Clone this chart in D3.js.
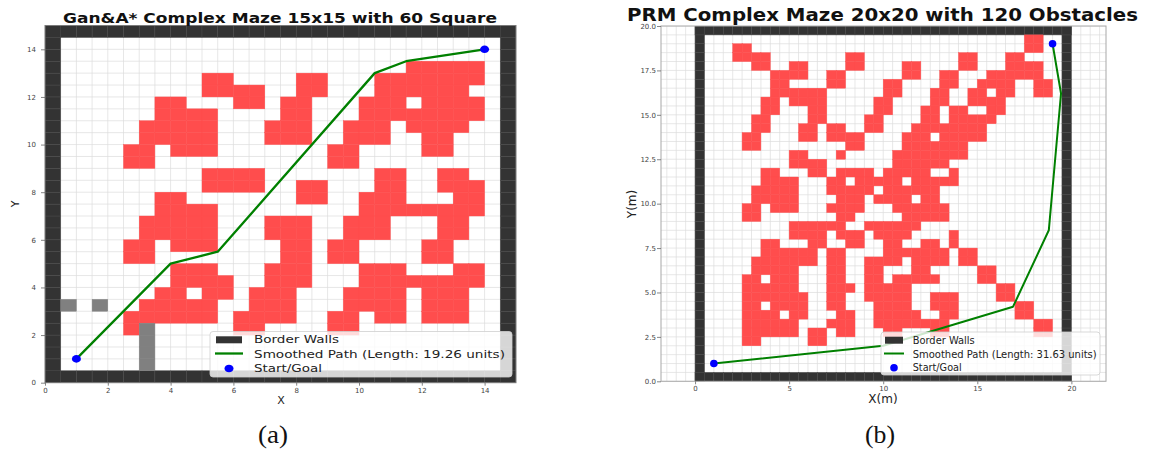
<!DOCTYPE html>
<html>
<head>
<meta charset="utf-8">
<script src="https://cdn.jsdelivr.net/npm/d3@7"></script>
<style>
  body { margin: 0; background: #fff; }
  svg { display: block; font-family: "DejaVu Sans", sans-serif; }
</style>
</head>
<body>
<div id="chart-container"></div>
<script>
/**************************************************
 * Data
 **************************************************/

// Panel (a): 15x15 maze, rows of 0.5-unit cells from top (y 14.5) down, x from 0.5
// '#' obstacle, 'g' grey block, '.' free
const mazeARows = [
  "............................",
  "............................",
  "......................#####.",
  ".........##....##...#######.",
  ".........####..##...######..",
  "......##...##.##...###.####.",
  "......####....##...########.",
  ".....#####...###..###.####..",
  ".....#####...###..###..##...",
  "....##.###.......##....##...",
  "....##...........##.........",
  ".........####.......##..##..",
  ".........####..##...##..###.",
  "......##.......##..###...##.",
  "......####.........########.",
  ".....#####...###..###...##..",
  ".....#####...###..###...##..",
  "....##.###....##.##....##...",
  "....##........##.##....##...",
  ".......###...###...###...##.",
  ".......####..###...########.",
  "......##.##.###...####.###..",
  "g.g..#####..###...####.###..",
  "....######.####..##.##.###..",
  "....#g.....##....##.........",
  ".....g......................",
  ".....g......................",
  ".....g......................"
];
const mazeAPath = [[1, 1], [4, 5], [5.5, 5.5], [10.5, 13], [11.5, 13.5], [14, 14]];
const mazeAEnds = [[1, 1], [14, 14]];
const mazeATicks = [0, 2, 4, 6, 8, 10, 12, 14];
const mazeALegend = ["Border Walls", "Smoothed Path (Length: 19.26 units)", "Start/Goal"];

// Panel (b): 20x20 maze, rows of 0.5-unit cells from top (y 19.5) down, x from 0.5
const mazeBRows = [
  "..................................##..",
  "...##.............................##..",
  "...####........##..........##...##....",
  ".....##..##....##....##....##...####..",
  ".......####..##......##..##...######..",
  ".......##....##....##....##..####..##.",
  ".......######......##...##..##.##..##.",
  "......##.####.....##....##..####......",
  "......##...##.....##...##.##..##......",
  ".....##....##....##....##.#####.......",
  ".....##...##.##..##...########........",
  "....##....##.####....###.#####........",
  "....##.........##....#######..........",
  ".........##...#.....########..........",
  ".........####.......######............",
  "......##...##.####.#####..#...........",
  "......####...##.#####.#####...........",
  ".....#####...#####.######.............",
  ".....#####....###.####.##.............",
  "....##.###...####...######............",
  "....##........##.....#####............",
  ".........######..######...............",
  ".........####.###.####....#...........",
  "......##...##..##..##..##.#...........",
  "......######.##....#######.##.........",
  ".....#######.##..####.####.##.........",
  ".....#####...##..##...##.....##.......",
  "....##.###...##..##.#####....##.......",
  "....######...###.#####.........##.....",
  "....#######..##..#####..###....##.....",
  "....##.####..##...####..###......##...",
  "....####.##...##..#####..##......##...",
  "....######...###..########.........##.",
  "....######.##.##...##...##.........##.",
  "....##.....##.........................",
  "......................................",
  "......................................",
  "......................................"
];
const mazeBPath = [[1, 1], [10, 2], [16.9, 4.2], [18.8, 8.5], [19.45, 16.2], [19, 19]];
const mazeBEnds = [[1, 1], [19, 19]];
const mazeBTicksX = [0, 5, 10, 15, 20];
const mazeBTicksY = [0, 2.5, 5, 7.5, 10, 12.5, 15, 17.5, 20];
const mazeBLegend = ["Border Walls", "Smoothed Path (Length: 31.63 units)", "Start/Goal"];

const captions = ["(a)", "(b)"];

/**************************************************
 * Helpers
 **************************************************/

const WALL = "#333333";
const OBST = "#ff4d4d";
const GREY = "#808080";
const PATH = "#008000";
const DOT = "#0000ff";

function cellsFromRows(rows, size) {
  const cells = [];
  rows.forEach((row, r) => {
    for (let c = 0; c < row.length; c++) {
      const ch = row[c];
      if (ch === "#" || ch === "g") {
        cells.push({ x: 0.5 + c * 0.5, y: size - 1 - r * 0.5, kind: ch });
      }
    }
  });
  return cells;
}

function wallCells(size) {
  const cells = [];
  for (let t = 0; t < size; t += 0.5) {
    cells.push({ x: t, y: 0 }, { x: t, y: size - 0.5 }, { x: 0, y: t }, { x: size - 0.5, y: t });
  }
  return cells;
}

function fitText(sel, width) {
  sel.attr("textLength", width).attr("lengthAdjust", "spacingAndGlyphs");
}

/**************************************************
 * Panel rendering
 **************************************************/

function drawPanel(svg, p) {
  const x = d3.scaleLinear().domain(p.xDomain).range(p.xRange);
  const y = d3.scaleLinear().domain(p.yDomain).range(p.yRange);
  const g = svg.append("g");

  svg.append("clipPath").attr("id", "clip-" + p.id)
    .append("rect")
    .attr("x", p.xRange[0]).attr("y", p.yRange[1])
    .attr("width", p.xRange[1] - p.xRange[0])
    .attr("height", p.yRange[0] - p.yRange[1]);

  const plot = g.append("g").attr("clip-path", `url(#clip-${p.id})`);

  // minor grid every 0.5
  const gx = d3.range(Math.ceil(p.xDomain[0] * 2) / 2, p.xDomain[1] + 0.01, 0.5);
  const gy = d3.range(Math.ceil(p.yDomain[0] * 2) / 2, p.yDomain[1] + 0.01, 0.5);
  plot.selectAll("line.gx").data(gx).enter().append("line")
    .attr("x1", d => x(d)).attr("x2", d => x(d))
    .attr("y1", p.yRange[0]).attr("y2", p.yRange[1])
    .attr("stroke", "#dcdcdc").attr("stroke-width", 0.7);
  plot.selectAll("line.gy").data(gy).enter().append("line")
    .attr("y1", d => y(d)).attr("y2", d => y(d))
    .attr("x1", p.xRange[0]).attr("x2", p.xRange[1])
    .attr("stroke", "#dcdcdc").attr("stroke-width", 0.7);

  const cw = x(0.5) - x(0);
  const ch = y(0) - y(0.5);

  // border walls
  plot.selectAll("rect.wall").data(wallCells(p.size)).enter().append("rect")
    .attr("x", d => x(d.x)).attr("y", d => y(d.y + 0.5))
    .attr("width", cw).attr("height", ch)
    .attr("fill", WALL).attr("stroke", "#4a4a4a").attr("stroke-width", 0.5);

  // obstacles
  plot.selectAll("rect.cell").data(cellsFromRows(p.rows, p.size)).enter().append("rect")
    .attr("x", d => x(d.x)).attr("y", d => y(d.y + 0.5))
    .attr("width", cw).attr("height", ch)
    .attr("fill", d => d.kind === "#" ? OBST : GREY)
    .attr("stroke", d => d.kind === "#" ? OBST : GREY)
    .attr("stroke-width", 0.4);

  // smoothed path
  plot.append("path").datum(p.path)
    .attr("d", d3.line().x(d => x(d[0])).y(d => y(d[1])))
    .attr("fill", "none").attr("stroke", PATH)
    .attr("stroke-width", p.pathWidth).attr("stroke-linejoin", "round");

  // start / goal
  plot.selectAll("ellipse.end").data(p.ends).enter().append("ellipse")
    .attr("cx", d => x(d[0])).attr("cy", d => y(d[1]))
    .attr("rx", p.dot[0]).attr("ry", p.dot[1])
    .attr("fill", DOT);

  // frame
  g.append("rect")
    .attr("x", p.xRange[0]).attr("y", p.yRange[1])
    .attr("width", p.xRange[1] - p.xRange[0])
    .attr("height", p.yRange[0] - p.yRange[1])
    .attr("fill", "none").attr("stroke", p.frame).attr("stroke-width", 1);

  // axes
  const xAxis = d3.axisBottom(x).tickValues(p.ticksX).tickFormat(p.fmtX)
    .tickSize(3).tickPadding(2);
  const yAxis = d3.axisLeft(y).tickValues(p.ticksY).tickFormat(p.fmtY)
    .tickSize(4).tickPadding(p.yPad);
  [g.append("g").attr("transform", `translate(0,${p.yRange[0]})`).call(xAxis),
   g.append("g").attr("transform", `translate(${p.xRange[0]},0)`).call(yAxis)]
    .forEach(a => {
      a.select(".domain").remove();
      a.selectAll(".tick line").attr("stroke", "#666").attr("stroke-width", 0.8);
      a.selectAll(".tick text").attr("fill", "#444")
        .attr("font-size", "7px").attr("font-family", "DejaVu Sans");
    });

  // axis labels
  g.append("text")
    .attr("x", p.xLabel[1]).attr("y", p.xLabel[2])
    .attr("text-anchor", "middle").attr("font-size", p.labelSize + "px").attr("fill", "#222")
    .text(p.xLabel[0]);
  g.append("text")
    .attr("transform", `translate(${p.yLabel[1]},${p.yLabel[2]}) rotate(-90)`)
    .attr("text-anchor", "middle").attr("font-size", p.labelSize + "px").attr("fill", "#222")
    .text(p.yLabel[0]);

  // title
  g.append("text")
    .attr("x", p.title[1]).attr("y", p.title[2])
    .attr("font-size", p.title[4] + "px").attr("font-weight", "bold").attr("fill", "#111")
    .text(p.title[0])
    .call(fitText, p.title[3]);

  // legend
  const L = p.legend;
  const lg = g.append("g");
  lg.append("rect")
    .attr("x", L.box[0]).attr("y", L.box[1]).attr("width", L.box[2]).attr("height", L.box[3])
    .attr("rx", 3).attr("fill", "#fff").attr("fill-opacity", 0.8)
    .attr("stroke", "#cfcfcf").attr("stroke-width", 0.8);
  lg.append("rect")
    .attr("x", L.hx - L.hw / 2).attr("y", L.rows[0] - 7)
    .attr("width", L.hw).attr("height", 7).attr("fill", WALL);
  lg.append("line")
    .attr("x1", L.hx - L.hw / 2 - 1).attr("x2", L.hx + L.hw / 2 + 1)
    .attr("y1", L.rows[1] - 4).attr("y2", L.rows[1] - 4)
    .attr("stroke", PATH).attr("stroke-width", p.pathWidth);
  lg.append("ellipse")
    .attr("cx", L.hx).attr("cy", L.rows[2] - 3.5)
    .attr("rx", p.dot[0]).attr("ry", p.dot[1]).attr("fill", DOT);
  L.labels.forEach((t, i) => {
    lg.append("text")
      .attr("x", L.tx).attr("y", L.rows[i])
      .attr("font-size", L.size + "px").attr("fill", "#222")
      .text(t)
      .call(fitText, L.widths[i]);
  });
}

/**************************************************
 * Render
 **************************************************/

const svg = d3.select("#chart-container")
  .append("svg")
  .attr("width", 1149)
  .attr("height", 450);

svg.append("rect").attr("width", 1149).attr("height", 450).attr("fill", "#fff");

drawPanel(svg, {
  id: "a",
  size: 15,
  rows: mazeARows,
  path: mazeAPath,
  ends: mazeAEnds,
  xDomain: [0, 15], xRange: [45, 516],
  yDomain: [0, 15], yRange: [382.7, 25.5],
  ticksX: mazeATicks, ticksY: mazeATicks,
  fmtX: d3.format("d"), fmtY: d3.format("d"), yPad: 5,
  pathWidth: 2.3, dot: [4.5, 3.8], frame: "#7a7a7a",
  xLabel: ["X", 281, 404], yLabel: ["Y", 19, 204], labelSize: 11,
  title: ["Gan&A* Complex Maze 15x15 with 60 Square", 63, 22.7, 434, 13.5],
  legend: {
    box: [210, 331.5, 302, 45.5],
    hx: 229, hw: 26, tx: 254, size: 10.5,
    rows: [343.3, 357.5, 372],
    labels: mazeALegend, widths: [85, 251, 68]
  }
});

drawPanel(svg, {
  id: "b",
  size: 20,
  rows: mazeBRows,
  path: mazeBPath,
  ends: mazeBEnds,
  xDomain: [-1.81, 21.84], xRange: [661, 1106],
  yDomain: [0, 20], yRange: [381.3, 26],
  ticksX: mazeBTicksX, ticksY: mazeBTicksY,
  fmtX: d3.format("d"), fmtY: d3.format(".1f"), yPad: 1,
  pathWidth: 2, dot: [3.8, 3.8], frame: "#a8a8a8",
  xLabel: ["X(m)", 883, 403], yLabel: ["Y(m)", 636, 204], labelSize: 12,
  title: ["PRM Complex Maze 20x20 with 120 Obstacles", 627, 20.5, 511, 17.5],
  legend: {
    box: [881, 332, 219, 43],
    hx: 894, hw: 18, tx: 912.7, size: 10,
    rows: [343.7, 357.5, 371.2],
    labels: mazeBLegend, widths: [62, 184, 49]
  }
});

// captions
svg.selectAll("text.caption").data(captions).enter().append("text")
  .attr("class", "caption")
  .attr("x", (d, i) => [273, 880][i])
  .attr("y", 443)
  .attr("text-anchor", "middle")
  .attr("font-family", "Liberation Serif, serif")
  .attr("font-size", "25px")
  .attr("fill", "#111")
  .text(d => d)
  .each(function() { fitText(d3.select(this), 30); });
</script>
</body>
</html>
